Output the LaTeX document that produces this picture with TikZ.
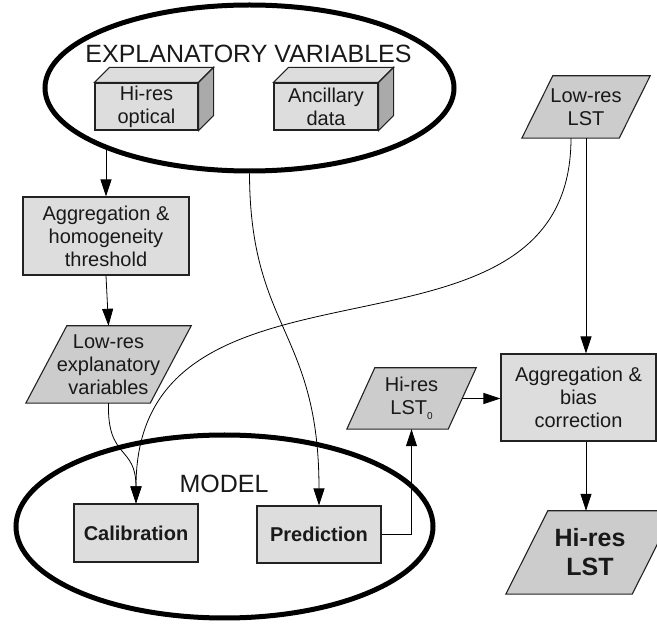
\documentclass[tikz,border=0pt]{standalone}
\usepackage{fontspec}
\setmainfont{Liberation Sans}
\usetikzlibrary{arrows.meta,calc,backgrounds,shapes.geometric}
\definecolor{boxfill}{HTML}{DDDDDD}
\definecolor{parafill}{HTML}{CCCCCC}
\definecolor{sidefill}{HTML}{AAAAAA}
\definecolor{edge}{HTML}{222222}
\tikzset{
  txt/.style={font=\fontsize{20}{23}\selectfont, align=center, text=black!90, inner sep=0pt},
  boxnode/.style={txt, draw=edge, fill=boxfill, line width=1.1pt},
  paratext/.style={txt},
  parashape/.style={draw=edge, fill=parafill, line width=1.1pt, line join=miter},
  sideface/.style={draw=edge, fill=sidefill, line width=1.1pt},
  topface/.style={draw=edge, fill=boxfill, line width=1.1pt},
  bigell/.style={ellipse, draw=black, line width=5pt, inner sep=0pt},
  conn/.style={line width=0.8pt, draw=black},
  arr/.style={conn, -{Triangle[length=17pt,width=11pt]}},
  title/.style={font=\fontsize{25}{28}\selectfont, text=black!90, inner sep=0pt}
}
\newcommand\paragram[2]{%
  \begin{pgfonlayer}{background}
  \filldraw[parashape] ($(#1.south west)+(-#2/2,0)$) -- ($(#1.north west)+(#2/2,0)$) -- ($(#1.north east)+(#2/2,0)$) -- ($(#1.south east)+(-#2/2,0)$) -- cycle;
  \end{pgfonlayer}}
\newcommand\cuboid[1]{%
  \filldraw[topface] (#1.north west) -- ++(15,-15) -- ($(#1.north east)+(15,-15)$) -- (#1.north east) -- cycle;
  \filldraw[sideface] (#1.north east) -- ++(15,-15) -- ($(#1.south east)+(15,-15)$) -- (#1.south east) -- cycle;}
\begin{document}
\begin{tikzpicture}[x=1pt,y=-1pt]
\useasboundingbox (0,0) rectangle (657,628);

% ellipses
\node[bigell, minimum width=409pt, minimum height=166pt] (expl) at (249.5,88) {};
\node[bigell, minimum width=417pt, minimum height=183pt] (model) at (224.5,526.5) {};
\node[title, anchor=base] (expltitle) at (248.5,63) {EXPLANATORY VARIABLES};
\node[title, anchor=base] (modeltitle) at (224,493) {MODEL};

% cuboids
\node[boxnode, minimum width=103pt, minimum height=47pt] (optical) at (146.5,106.5) {Hi-res\\optical};
\cuboid{optical}
\node[boxnode, minimum width=104pt, minimum height=47pt] (ancil) at (326,106.5) {Ancillary\\data};
\cuboid{ancil}

% boxes
\node[boxnode, minimum width=166pt, minimum height=78pt] (agg1) at (106,236) {Aggregation \&\\homogeneity\\threshold};
\node[boxnode, minimum width=155pt, minimum height=87pt] (agg2) at (578.5,397.5) {Aggregation \&\\bias\\correction};
\node[boxnode, minimum width=124pt, minimum height=58pt, font=\fontsize{20}{23}\selectfont\bfseries] (calib) at (136,533) {Calibration};
\node[boxnode, minimum width=124pt, minimum height=57pt, font=\fontsize{20}{23}\selectfont\bfseries] (pred) at (319,534.5) {Prediction};

% parallelograms
\node[paratext, minimum width=124pt, minimum height=77pt] (lowexp) at (108.5,364.5) {Low-res\\explanatory\\variables};
\paragram{lowexp}{41}
\node[paratext, minimum width=97pt, minimum height=62pt] (lowlst) at (586,107) {Low-res\\LST};
\paragram{lowlst}{31}
\node[paratext, minimum width=101pt, minimum height=61pt] (lst0) at (411.5,398.5) {Hi-res\\LST\raisebox{-5pt}{\fontsize{10}{10}\selectfont 0}};
\paragram{lst0}{28}
\node[paratext, minimum width=126pt, minimum height=83pt, font=\fontsize{25}{29}\selectfont\bfseries] (hireslst) at (590,552.5) {Hi-res\\LST};
\paragram{hireslst}{42}

% connectors
\draw[arr] (agg1.north |- expl.202) -- (agg1.north);
\draw[arr] (agg1.south) -- (lowexp.north);
\draw[arr] (lowexp.south) .. controls (107,460) and (136,445) .. (calib.north);
\draw[arr] ($(lowlst.south)+(-15,0)$) .. controls (571,390) and (136,225) .. (calib.north);
\draw[arr] (lowlst.south) -- (lowlst.south |- agg2.north);
\draw[arr] (expl.south) .. controls (250,330) and (319,330) .. (pred.north);
\draw[arr] (pred.east) -| (lst0.south);
\draw[arr] (lst0.east) -- (lst0.east -| agg2.west);
\draw[arr] (lowlst.south |- agg2.south) -- (lowlst.south |- hireslst.north);
\end{tikzpicture}
\end{document}
